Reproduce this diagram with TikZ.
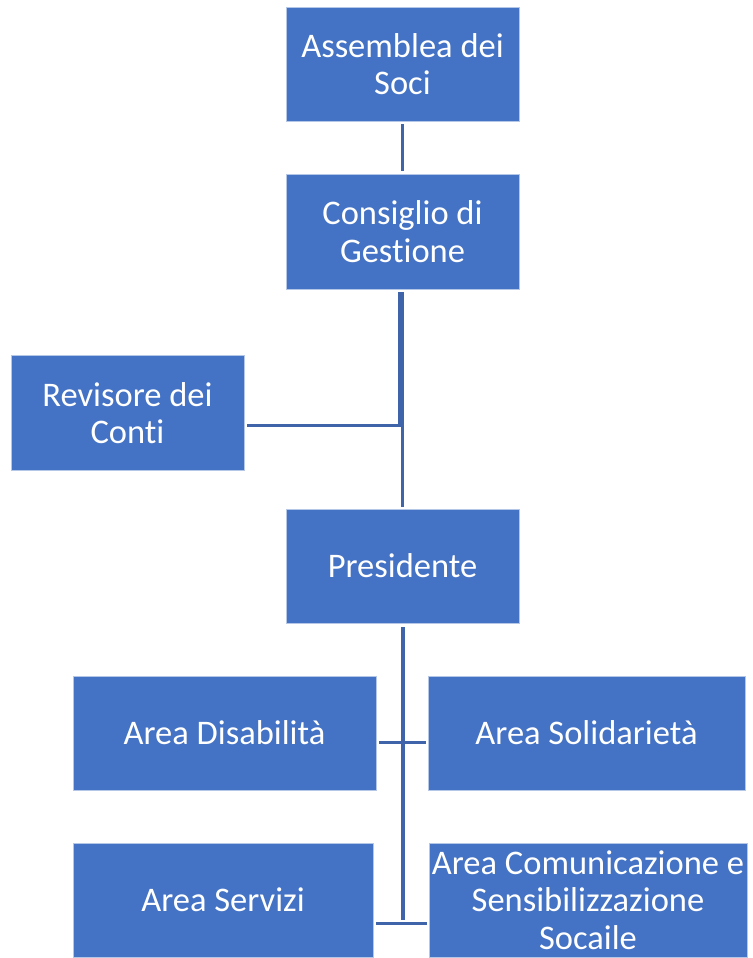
\documentclass[tikz,border=0pt]{standalone}
\usepackage{fontspec}
\setmainfont{Carlito}[Ligatures=NoCommon]
\definecolor{boxblue}{HTML}{4472C4}
\definecolor{lineblue}{RGB}{64,100,170}
\definecolor{edgeblue}{RGB}{180,199,231}
\begin{document}
\begin{tikzpicture}[x=1pt,y=-1pt,
  orgbox/.style={fill=boxblue,draw=edgeblue,line width=0.8pt,text=white,align=center,inner sep=0pt,
    font=\fontsize{34.5}{37.5}\selectfont},
  conn/.style={draw=lineblue,line width=3pt}]
\useasboundingbox (0,0) rectangle (752,958);
\node[orgbox,minimum width=233pt,minimum height=114pt] (ass) at (402.5,64) {Assemblea dei\\Soci};
\node[orgbox,minimum width=233pt,minimum height=115pt] (con) at (402.5,231.5) {Consiglio di\\Gestione};
\node[orgbox,minimum width=233pt,minimum height=115pt] (rev) at (127.5,413) {Revisore dei\\Conti};
\node[orgbox,minimum width=233pt,minimum height=114pt] (pre) at (402.5,566) {Presidente};
\node[orgbox,minimum width=303pt,minimum height=114pt] (dis) at (224.5,733) {Area Disabilità};
\node[orgbox,minimum width=317pt,minimum height=114pt] (sol) at (586.5,733) {Area Solidarietà};
\node[orgbox,minimum width=300pt,minimum height=114pt] (ser) at (223,900) {Area Servizi};
\node[orgbox,minimum width=318pt,minimum height=114pt] (com) at (588,900) {Area Comunicazione e\\Sensibilizzazione\\Socaile};
% connectors
\draw[conn] ([yshift=-3pt]ass.south) -- ([yshift=3pt]con.north);
\coordinate (c1) at ([xshift=-3.5pt,yshift=-3pt]con.south);
\coordinate (c2) at ([xshift=0pt,yshift=-3pt]con.south);
\coordinate (r1) at ([xshift=3pt,yshift=-12pt]rev.east);
\draw[conn] (c1) |- (r1);
\draw[conn] (c2) -- ([yshift=2pt]pre.north);
\coordinate (p1) at ([xshift=0.5pt,yshift=-4pt]pre.south);
\coordinate (p2) at ([xshift=0.5pt,yshift=-20pt]ser.center -| pre.south);
\draw[draw=lineblue,line width=4pt] (p1) -- (p2);
\draw[conn] ([xshift=3pt,yshift=-9pt]dis.east) -- ([xshift=-2pt,yshift=-9pt]sol.west);
\draw[conn] ([xshift=3pt,yshift=-23pt]ser.east) -- ([xshift=-2pt,yshift=-23pt]com.west);
\end{tikzpicture}
\end{document}
